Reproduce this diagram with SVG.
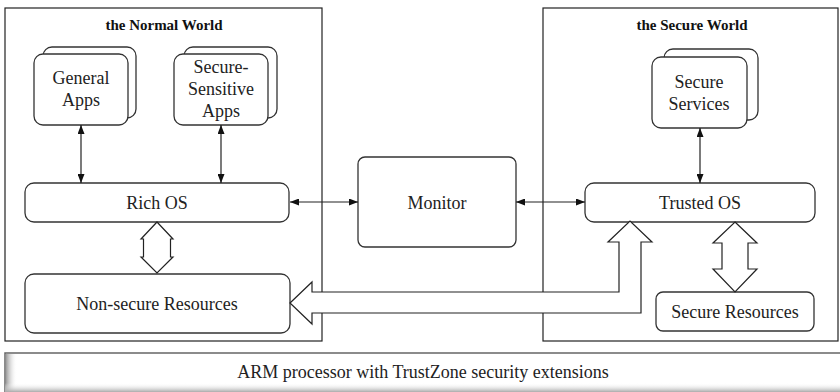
<svg xmlns="http://www.w3.org/2000/svg" width="840" height="392" viewBox="0 0 840 392">
<style>
.world{fill:#fff;stroke:#222;stroke-width:1.2}
.box{fill:#fff;stroke:#333;stroke-width:1.3}
.t{font-family:"Liberation Serif","Times New Roman",serif;font-size:18px;fill:#222;text-anchor:middle}
.title{font-family:"Liberation Serif","Times New Roman",serif;font-size:15px;font-weight:bold;fill:#111;text-anchor:middle}
.conn{stroke:#222;stroke-width:1.2;fill:none}
.hollow{fill:#fff;stroke:#222;stroke-width:1.2;stroke-linejoin:miter}
</style>
<defs>
<marker id="ah" viewBox="0 0 10 10" refX="10" refY="5" markerWidth="9" markerHeight="7" markerUnits="userSpaceOnUse" orient="auto-start-reverse" preserveAspectRatio="none">
<path d="M0,0 L10,5 L0,10 z" fill="#111"/>
</marker>
<linearGradient id="gl" x1="0" y1="0" x2="1" y2="0">
<stop offset="0" stop-color="#888"/>
<stop offset="1" stop-color="#fff" stop-opacity="0"/>
</linearGradient>
<linearGradient id="gb" x1="0" y1="0" x2="0" y2="1">
<stop offset="0" stop-color="#fff" stop-opacity="0"/>
<stop offset="1" stop-color="#aaa"/>
</linearGradient>
</defs>
<rect width="840" height="392" fill="#fff"/>

<g id="normal-world">
<rect class="world" x="5" y="8" width="317" height="333"/>
<text class="title" x="164" y="30">the Normal World</text>
</g>
<g id="secure-world">
<rect class="world" x="543" y="8" width="295" height="333"/>
<text class="title" x="692" y="30">the Secure World</text>
</g>

<g id="general-apps">
<rect class="box" x="43" y="47" width="93" height="71" rx="9"/>
<rect class="box" x="34" y="54" width="94" height="71" rx="9"/>
<text class="t" x="81" y="84">General</text>
<text class="t" x="81" y="106">Apps</text>
</g>
<g id="secure-sensitive-apps">
<rect class="box" x="184" y="47" width="93" height="71" rx="9"/>
<rect class="box" x="174" y="54" width="94" height="71" rx="9"/>
<text class="t" x="221" y="73">Secure-</text>
<text class="t" x="221" y="95">Sensitive</text>
<text class="t" x="221" y="117">Apps</text>
</g>
<g id="secure-services">
<rect class="box" x="664" y="49" width="94" height="71" rx="9"/>
<rect class="box" x="652" y="57" width="95" height="71" rx="9"/>
<text class="t" x="699" y="88">Secure</text>
<text class="t" x="699" y="110">Services</text>
</g>

<g id="rich-os">
<rect class="box" x="25" y="183" width="264" height="39" rx="9"/>
<text class="t" x="157" y="209">Rich OS</text>
</g>
<g id="non-secure-resources">
<rect class="box" x="25" y="274" width="265" height="59" rx="9"/>
<text class="t" x="157" y="310">Non-secure Resources</text>
</g>
<g id="monitor">
<rect class="box" x="358" y="157" width="158" height="90" rx="7"/>
<text class="t" x="437" y="209">Monitor</text>
</g>
<g id="trusted-os">
<rect class="box" x="585" y="183" width="230" height="39" rx="9"/>
<text class="t" x="700" y="209">Trusted OS</text>
</g>
<g id="secure-resources">
<rect class="box" x="656" y="292" width="158" height="39" rx="7"/>
<text class="t" x="735" y="318">Secure Resources</text>
</g>

<g id="connectors">
<line class="conn" x1="81" y1="125" x2="81" y2="183" marker-start="url(#ah)" marker-end="url(#ah)"/>
<line class="conn" x1="221" y1="125" x2="221" y2="183" marker-start="url(#ah)" marker-end="url(#ah)"/>
<line class="conn" x1="700" y1="128" x2="700" y2="183" marker-start="url(#ah)" marker-end="url(#ah)"/>
<line class="conn" x1="290" y1="202" x2="358" y2="202" marker-start="url(#ah)" marker-end="url(#ah)"/>
<line class="conn" x1="516" y1="202" x2="585" y2="202" marker-start="url(#ah)" marker-end="url(#ah)"/>
<path class="hollow" d="M157,222 L173,239 L170.5,239 L170.5,257 L173,257 L157,273 L141,257 L143.5,257 L143.5,239 L141,239 Z"/>
<path class="hollow" d="M735,222 L757,243 L748,243 L748,269 L757,269 L735,292 L713,269 L722,269 L722,243 L713,243 Z"/>
<path class="hollow" d="M290,303 L312,282 L312,292 L619,292 L619,242 L608,242 L630,221 L652,242 L641,242 L641,313 L312,313 L312,324 Z"/>
</g>

<g id="arm-processor">
<rect x="5" y="353" width="836" height="40" fill="#fff" stroke="#666" stroke-width="1.5"/>
<rect x="5" y="354" width="12" height="38" fill="url(#gl)"/>
<rect x="5" y="383" width="835" height="9" fill="url(#gb)"/>
<text class="t" x="423" y="378">ARM processor with TrustZone security extensions</text>
</g>
</svg>
